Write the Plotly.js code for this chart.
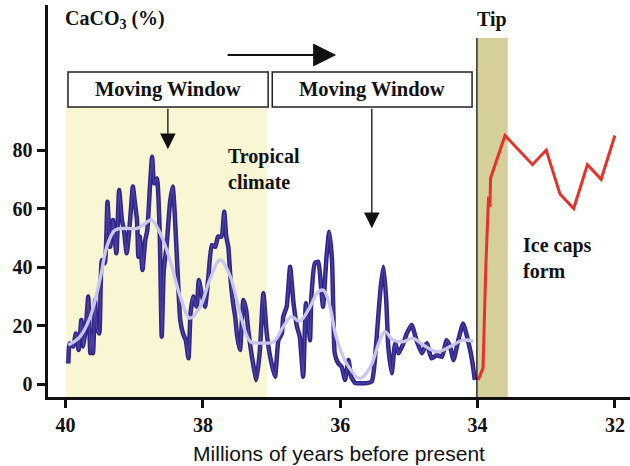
<!DOCTYPE html>
<html>
<head>
<meta charset="utf-8">
<script src="https://cdn.plot.ly/plotly-3.0.1.min.js"></script>
<style>
  html, body { margin: 0; padding: 0; background: #fff; }
  #chart { width: 630px; height: 466px; }
</style>
</head>
<body>
<div id="chart"></div>
<script>
// CaCO3 record across the Eocene–Oligocene transition (age in Myr before present)
const blueAge = [39.96,39.94,39.89,39.85,39.81,39.77,39.74,39.70,39.67,39.64,39.62,39.60,39.57,39.55,39.51,39.47,39.43,39.39,39.35,39.31,
  39.26,39.22,39.18,39.15,39.11,39.06,39.02,38.99,38.96,38.94,38.92,38.88,38.84,38.81,38.77,38.74,38.71,38.67,38.63,38.60,
  38.57,38.53,38.48,38.44,38.41,38.37,38.33,38.29,38.25,38.21,38.18,38.14,38.09,38.06,38.02,37.97,37.92,37.87,37.82,37.78,
  37.73,37.69,37.66,37.63,37.60,37.56,37.53,37.50,37.46,37.41,37.37,37.34,37.27,37.22,37.17,37.12,37.07,37.02,36.95,36.90,
  36.85,36.83,36.78,36.73,36.68,36.63,36.59,36.54,36.50,36.46,36.44,36.42,36.37,36.32,36.28,36.25,36.20,36.16,36.12,36.10,
  36.08,36.03,35.98,35.93,35.88,35.84,35.78,35.71,35.61,35.54,35.51,35.48,35.45,35.41,35.37,35.33,35.30,35.25,35.20,35.15,
  35.08,35.03,34.96,34.89,34.81,34.74,34.67,34.59,34.52,34.45,34.40,34.35,34.28,34.21,34.13,34.08,34.04];
const blueCaCO3 = [7,13.9,12.8,17.3,11.6,21.9,12.8,20.7,29.9,10.5,17.3,10.5,28.7,19.6,17.3,42.4,41.3,62.3,46.9,56.1,
  44.7,66.3,56.1,52.6,44.7,56.1,67.5,61.8,56.1,43.5,50.4,39.0,49.2,52.6,68.0,77.7,68.6,70.3,52.6,16.2,
  39.0,46.9,61.8,67.5,58.3,39.0,21.9,17.3,15.0,8.8,24.2,29.9,26.4,35.6,31.0,26.4,36.7,47.5,46.9,50.4,
  50.4,58.9,50.4,46.9,36.7,27.6,23.0,16.2,11.6,28.7,25.3,18.5,7.1,1.4,11.6,31.0,17.3,9.3,2.5,15.0,
  17.3,23.0,26.4,40.1,27.6,19.6,16.2,2.5,27.6,19.6,15.0,29.9,41.3,41.8,33.3,26.4,43.5,52.1,42.4,24.2,
  10.5,7.1,5.9,1.4,8.2,2.5,0.3,0.3,0.3,0.9,4.8,12.8,21.9,33.3,40.1,28.7,12.8,3.7,13.9,10.5,
  13.9,17.3,20.2,15.0,10.5,13.9,8.8,9.9,9.3,15.0,12.8,8.2,15.0,20.7,13.9,8.2,1.4];

// smoothed trend of the same record
const smoothAge = [39.96,39.79,39.64,39.50,39.40,39.28,39.11,38.96,38.84,38.75,38.62,38.48,38.33,38.19,38.04,37.90,37.75,37.60,37.46,37.31,
  37.17,36.97,36.83,36.71,36.59,36.44,36.32,36.24,36.15,36.06,35.91,35.71,35.56,35.44,35.35,35.23,35.08,34.94,34.79,34.59,
  34.40,34.21,34.06];
const smoothCaCO3 = [13.3,16.2,23.0,35.6,46.9,52.6,53.2,53.2,54.9,56.1,51.5,42.4,29.9,22.5,26.4,35.6,42.4,36.7,24.2,14.5,
  14.0,14.5,19.6,23.0,21.5,26.4,31.6,32.0,26.4,16.2,7.1,1.9,5.9,13.9,17.9,15.0,14.5,15.6,13.3,11.0,
  12.8,15.0,14.6];

// post-tip record (ice caps)
const redAge = [33.99,33.92,33.88,33.84,33.82,33.81,33.6,33.2,33.0,32.8,32.6,32.4,32.2,32.0];
const redCaCO3 = [1.4,5.5,40,64,60.5,70.4,85,75,80,65,60,75,70,85];

const xTicks = [40, 38, 36, 34, 32];
const yTicks = [0, 20, 40, 60, 80];

const xRange = [40.256, 31.78];
const yRange = [-4.44, 129.6];

const serif = 'Liberation Serif, Times New Roman, serif';
const dark = '#30268a';

const traces = [
  { x: blueAge, y: blueCaCO3, mode: 'lines', type: 'scatter',
    line: { color: dark, width: 4.5, shape: 'spline', smoothing: 0.5 }, hoverinfo: 'skip' },
  { x: blueAge, y: blueCaCO3, mode: 'lines', type: 'scatter',
    line: { color: '#4e44a6', width: 1.2, shape: 'spline', smoothing: 0.5 }, hoverinfo: 'skip' },
  { x: smoothAge, y: smoothCaCO3, mode: 'lines', type: 'scatter',
    line: { color: '#c9c7ef', width: 3.3, shape: 'spline', smoothing: 1 }, hoverinfo: 'skip' },
  { x: redAge, y: redCaCO3, mode: 'lines', type: 'scatter',
    line: { color: '#e5322a', width: 3 }, hoverinfo: 'skip' }
];

const shapes = [
  // tropical window shading
  { type: 'rect', xref: 'x', yref: 'y', x0: 39.99, x1: 37.07, y0: yRange[0], y1: 94.7,
    fillcolor: '#f8f6d3', line: { width: 0 }, layer: 'below' },
  // tipping-point band
  { type: 'rect', xref: 'x', yref: 'y', x0: 34.01, x1: 33.56, y0: yRange[0], y1: 118.3,
    fillcolor: '#d5cf9b', line: { width: 0 }, layer: 'below' },
  { type: 'line', xref: 'x', yref: 'y', x0: 34.01, x1: 34.01, y0: yRange[0], y1: 118.3,
    line: { color: '#000', width: 1.2 } },
  // moving-window boxes
  { type: 'rect', xref: 'x', yref: 'y', x0: 39.965, x1: 37.05, y0: 94.7, y1: 106.7,
    fillcolor: '#fff', line: { color: '#222', width: 1.5 } },
  { type: 'rect', xref: 'x', yref: 'y', x0: 36.99, x1: 34.08, y0: 94.7, y1: 106.7,
    fillcolor: '#fff', line: { color: '#222', width: 1.5 } }
];

const boldFont = (size) => ({ family: serif, size: size, color: '#111', weight: 'bold' });

const annotations = [
  { xref: 'paper', yref: 'y', x: 0.025, y: 124.7, xanchor: 'left', yanchor: 'middle',
    text: 'CaCO<sub>3</sub> (%)', showarrow: false, font: boldFont(20) },
  { xref: 'x', yref: 'y', x: 38.51, y: 100.7, text: 'Moving Window', showarrow: false, font: boldFont(20.5) },
  { xref: 'x', yref: 'y', x: 35.54, y: 100.7, text: 'Moving Window', showarrow: false, font: boldFont(20.5) },
  { xref: 'x', yref: 'y', x: 33.79, y: 124.5, text: 'Tip', showarrow: false, font: boldFont(20) },
  { xref: 'x', yref: 'y', x: 37.66, y: 73.5, xanchor: 'left', align: 'left',
    text: 'Tropical<br>climate', showarrow: false, font: boldFont(20) },
  { xref: 'x', yref: 'y', x: 33.37, y: 43.0, xanchor: 'left', align: 'left',
    text: 'Ice caps<br>form', showarrow: false, font: boldFont(20) },
  // direction of the moving window
  { xref: 'x', yref: 'y', x: 36.06, y: 112.5, ax: -110, ay: 0, text: '', showarrow: true,
    arrowhead: 2, arrowsize: 2.3, arrowwidth: 2, arrowcolor: '#111' },
  // window pointers
  { xref: 'x', yref: 'y', x: 38.51, y: 80.3, ax: 0, ay: -42, text: '', showarrow: true,
    arrowhead: 2, arrowsize: 2.4, arrowwidth: 1.3, arrowcolor: '#111' },
  { xref: 'x', yref: 'y', x: 35.54, y: 53.3, ax: 0, ay: -121, text: '', showarrow: true,
    arrowhead: 2, arrowsize: 2.4, arrowwidth: 1.3, arrowcolor: '#111' }
];

const layout = {
  width: 630, height: 466,
  margin: { l: 48, r: 0, t: 5, b: 69, pad: 0 },
  paper_bgcolor: '#fff', plot_bgcolor: 'rgba(0,0,0,0)',
  showlegend: false,
  xaxis: {
    range: xRange, tickvals: xTicks, ticktext: xTicks.map(String),
    ticks: 'outside', ticklen: 8, tickwidth: 3, tickcolor: '#111',
    showline: true, linewidth: 3, linecolor: '#111',
    showgrid: false, zeroline: false,
    tickfont: boldFont(20),
    title: { text: 'Millions of years before present', standoff: 12,
      font: { family: 'Liberation Sans, Arial, sans-serif', size: 21, color: '#111' } }
  },
  yaxis: {
    range: yRange, tickvals: yTicks, ticktext: yTicks.map(String),
    ticks: 'outside', ticklen: 8, tickwidth: 3, tickcolor: '#111',
    showline: true, linewidth: 3.5, linecolor: '#111',
    showgrid: false, zeroline: false,
    tickfont: boldFont(20)
  },
  shapes: shapes,
  annotations: annotations
};

Plotly.newPlot('chart', traces, layout, { staticPlot: true, displayModeBar: false });
</script>
</body>
</html>
